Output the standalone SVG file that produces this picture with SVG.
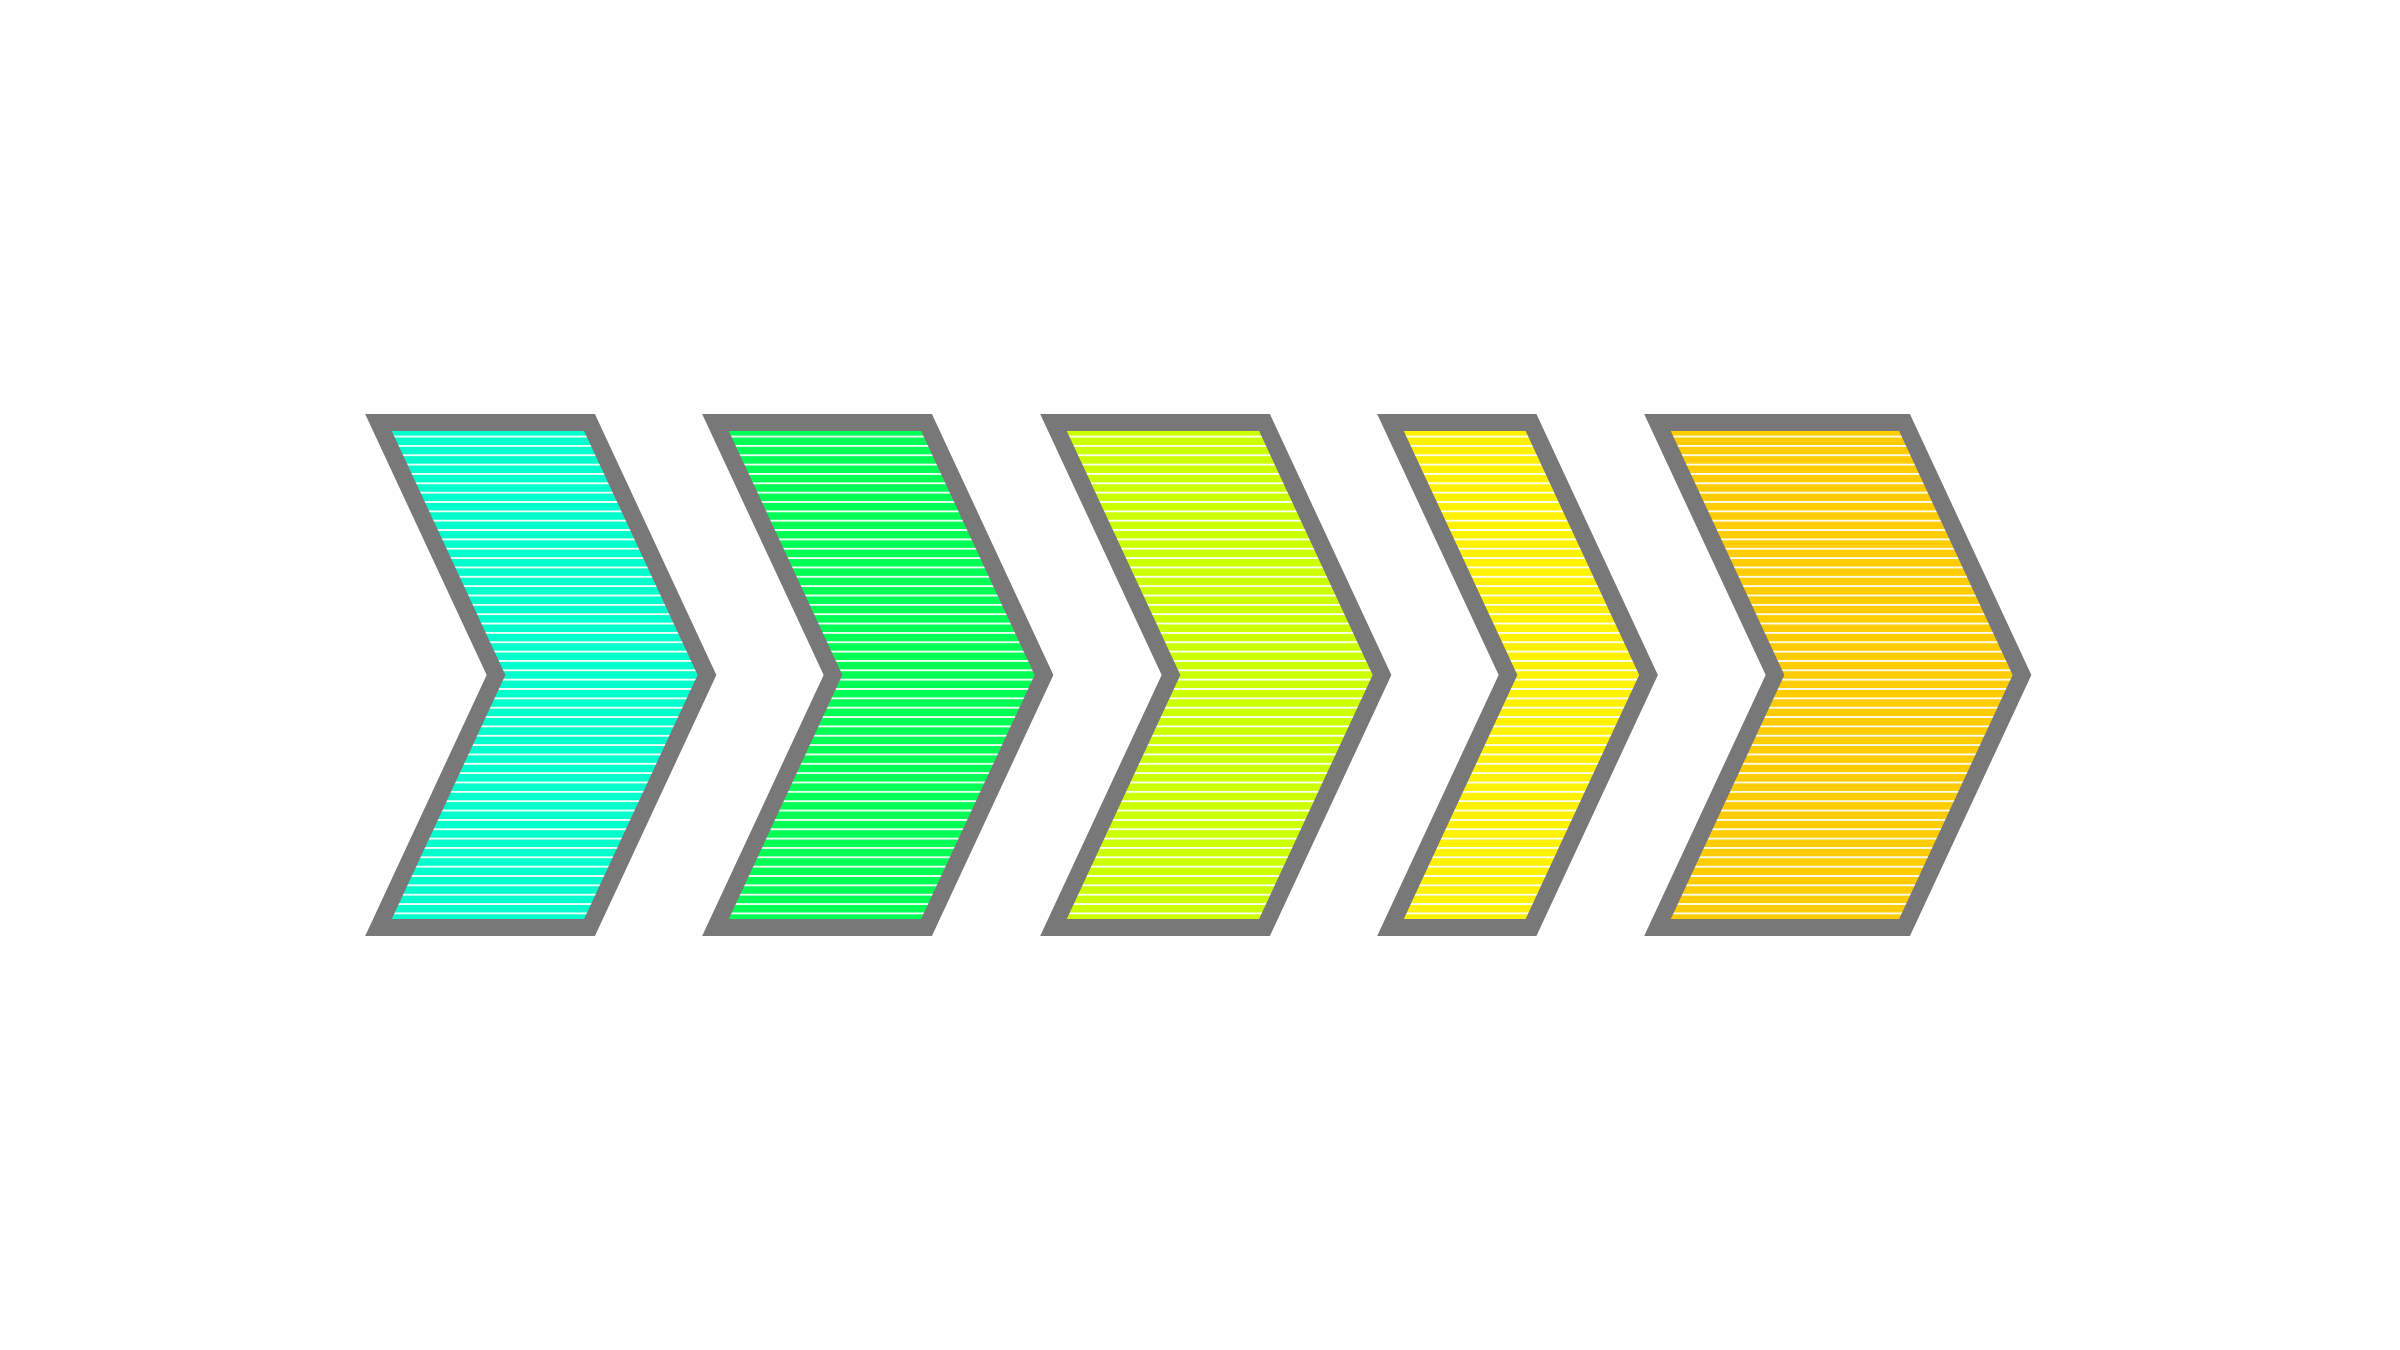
<svg xmlns="http://www.w3.org/2000/svg" xmlns:xlink="http://www.w3.org/1999/xlink" width="2400" height="1350" viewBox="0 0 2400 1350">
  <style>
    .frame { fill: none; stroke: #787878; stroke-width: 17; stroke-linejoin: miter; stroke-miterlimit: 10; }
    .lines { fill: url(#stripes); stroke: none; }
  </style>
  <defs>
    <pattern id="stripes" patternUnits="userSpaceOnUse" x="0" y="435.6" width="40" height="9.35">
      <rect x="0" y="0" width="40" height="1.9" fill="#ffffff" opacity="0.92"/>
    </pattern>
    <polygon id="c1" points="378.5,422.5 589.5,422.5 707,675 589.5,927.5 378.5,927.5 496,675"/>
    <polygon id="c2" points="715.5,422.5 926.5,422.5 1044,675 926.5,927.5 715.5,927.5 833,675"/>
    <polygon id="c3" points="1053.5,422.5 1264.5,422.5 1382,675 1264.5,927.5 1053.5,927.5 1171,675"/>
    <polygon id="c4" points="1390.5,422.5 1531,422.5 1648.5,675 1531,927.5 1390.5,927.5 1508,675"/>
    <polygon id="c5" points="1657.5,422.5 1904.5,422.5 2022,675 1904.5,927.5 1657.5,927.5 1775,675"/>
  </defs>
  <rect x="0" y="0" width="2400" height="1350" fill="#ffffff"/>
  <g id="chevron-1">
    <use xlink:href="#c1" href="#c1" fill="#00FFCC"/>
    <use xlink:href="#c1" href="#c1" class="lines"/>
    <use xlink:href="#c1" href="#c1" class="frame"/>
  </g>
  <g id="chevron-2">
    <use xlink:href="#c2" href="#c2" fill="#00FF55"/>
    <use xlink:href="#c2" href="#c2" class="lines"/>
    <use xlink:href="#c2" href="#c2" class="frame"/>
  </g>
  <g id="chevron-3">
    <use xlink:href="#c3" href="#c3" fill="#CCFF00"/>
    <use xlink:href="#c3" href="#c3" class="lines"/>
    <use xlink:href="#c3" href="#c3" class="frame"/>
  </g>
  <g id="chevron-4">
    <use xlink:href="#c4" href="#c4" fill="#FFF200"/>
    <use xlink:href="#c4" href="#c4" class="lines"/>
    <use xlink:href="#c4" href="#c4" class="frame"/>
  </g>
  <g id="chevron-5">
    <use xlink:href="#c5" href="#c5" fill="#FFCC00"/>
    <use xlink:href="#c5" href="#c5" class="lines"/>
    <use xlink:href="#c5" href="#c5" class="frame"/>
  </g>
  <g id="connectors"></g>
</svg>
